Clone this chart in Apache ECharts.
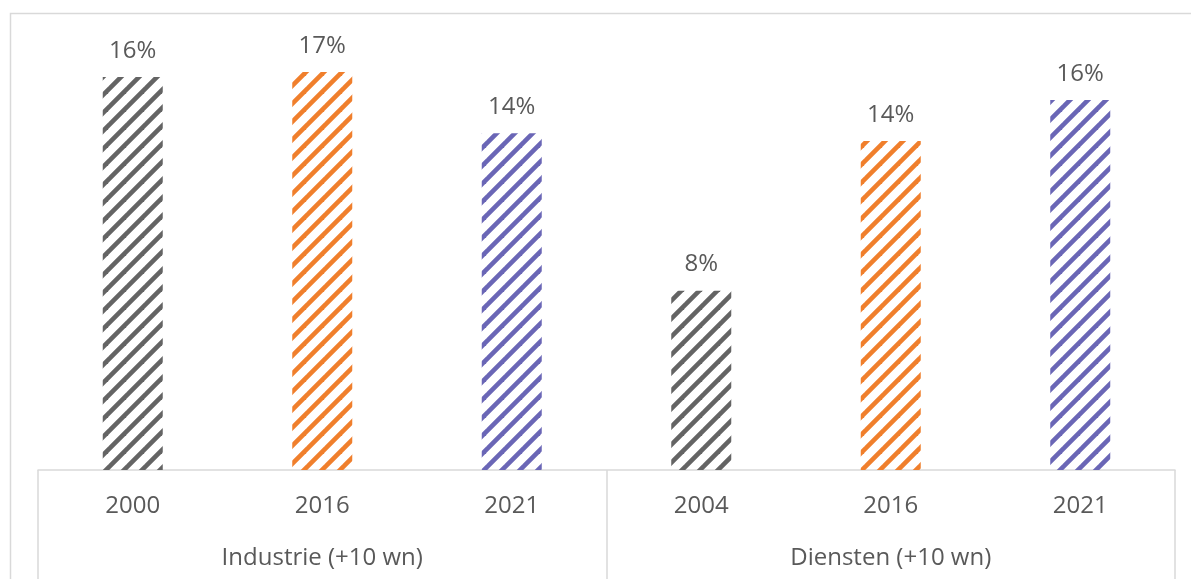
<!DOCTYPE html>
<html>
<head>
<meta charset="utf-8">
<script src="https://cdn.jsdelivr.net/npm/echarts@6/dist/echarts.min.js"></script>
<style>
  html, body { margin: 0; padding: 0; background: #ffffff; }
  #chart { width: 1191px; height: 579px; }
</style>
</head>
<body>
<div id="chart"></div>
<script>
// Share of workers, by sector group and survey year
const years = ['2000', '2016', '2021', '2004', '2016', '2021'];
const groups = ['Industrie (+10 wn)', 'Diensten (+10 wn)'];
const shares = [16.48, 16.69, 14.12, 7.52, 13.79, 15.51];
const barColors = ['#646464', '#f07f2c', '#6a66b6'];

// Diagonal hatch tile ("/" stripes) for a given colour
function hatch(color) {
  const T = 18;
  const c = document.createElement('canvas');
  c.width = T; c.height = T;
  const ctx = c.getContext('2d');
  ctx.strokeStyle = color;
  ctx.lineWidth = 4.6;
  for (let o = -T; o <= T; o += T) {
    ctx.beginPath();
    ctx.moveTo(o - 2, T + 2);
    ctx.lineTo(o + T + 2, -2);
    ctx.stroke();
  }
  return { image: c, repeat: 'repeat' };
}

const font = '"Open Sans", sans-serif';
const textColor = '#595959';
const lineColor = '#d9d9d9';

const chart = echarts.init(document.getElementById('chart'), null, { renderer: 'canvas' });
chart.setOption({
  animation: false,
  backgroundColor: '#ffffff',
  graphic: [{
    type: 'rect',
    left: 8, top: 11,
    shape: { width: 1300, height: 700 },
    style: { fill: 'none', stroke: lineColor, lineWidth: 1.5 },
    silent: true
  }],
  grid: { left: 38, right: 16, top: 40.7, bottom: 109, containLabel: false },
  xAxis: [{
    type: 'category',
    data: years,
    axisLine: { show: true, lineStyle: { color: lineColor, width: 1.5 } },
    axisTick: { show: false },
    axisLabel: { color: textColor, fontFamily: font, fontSize: 24, margin: 24 }
  }, {
    type: 'category',
    data: groups,
    position: 'bottom',
    axisLine: { show: false },
    axisTick: { show: true, length: 120, lineStyle: { color: lineColor, width: 1.5 } },
    axisLabel: { color: textColor, fontFamily: font, fontSize: 24, margin: 76 },
    splitLine: { show: false }
  }],
  yAxis: {
    type: 'value',
    min: 0, max: 18,
    show: false,
    splitLine: { show: false }
  },
  series: [{
    type: 'bar',
    xAxisIndex: 0,
    barWidth: 60,
    data: shares.map((v, i) => ({
      value: v,
      itemStyle: { color: hatch(barColors[i % 3]) }
    })),
    label: {
      show: true,
      position: 'top',
      distance: 14,
      color: textColor,
      fontFamily: font,
      fontSize: 24,
      formatter: p => Math.round(p.value) + '%'
    }
  }]
});
</script>
</body>
</html>
